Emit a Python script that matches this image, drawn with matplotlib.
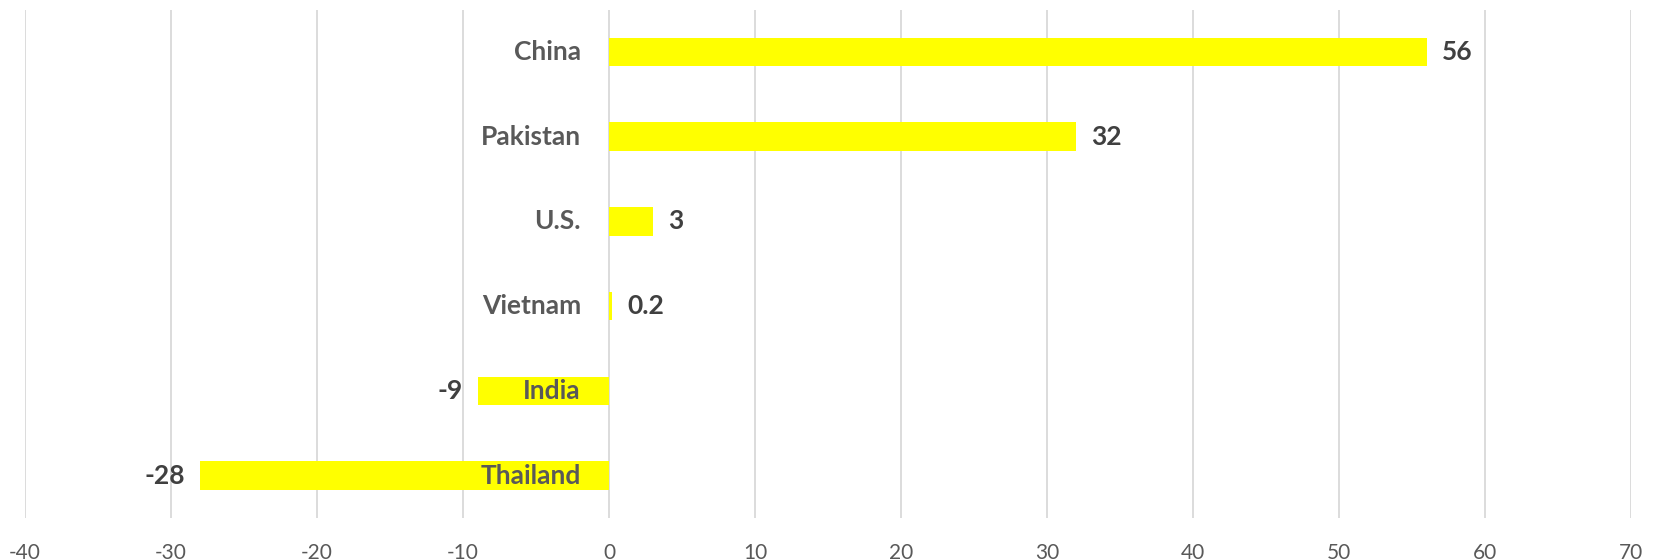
import matplotlib
matplotlib.use("Agg")
import matplotlib.pyplot as plt
from matplotlib.transforms import offset_copy

countries = ["China", "Pakistan", "U.S.", "Vietnam", "India", "Thailand"]
values = [56, 32, 3, 0.2, -9, -28]
xticks = [-40, -30, -20, -10, 0, 10, 20, 30, 40, 50, 60, 70]

plt.rcParams["font.family"] = ["Lato", "DejaVu Sans"]

fig = plt.figure(figsize=(16.54, 5.6), dpi=100)
ax = fig.add_axes([0.0151, 0.075, 0.971, 0.908])

pos = list(range(len(countries)))
bars = ax.barh(pos, values, height=0.336, color="#FFFF00", zorder=2)
ax.bar_label(bars, labels=[f"{v:g}" for v in values], padding=11,
             fontsize=19, fontweight="bold", color="#404040")

# category names sit just left of zero
trans = offset_copy(ax.transData, fig=fig, x=-28, y=0, units="dots")
for p, name in zip(pos, countries):
    ax.text(0, p, name, transform=trans, ha="right", va="center",
            fontsize=19, fontweight="bold", color="#595959", zorder=3)

ax.set_xlim(-40, 70)
ax.set_ylim(len(countries) - 0.5, -0.5)
ax.set_xticks(xticks)
ax.set_xticklabels([str(t) for t in xticks], fontsize=15, color="#595959")
ax.set_yticks([])
ax.tick_params(axis="x", length=0, pad=18)
ax.grid(axis="x", color="#D9D9D9", linewidth=1.3, zorder=0)
for s in ax.spines.values():
    s.set_visible(False)

fig.savefig("out.png", dpi=100)
